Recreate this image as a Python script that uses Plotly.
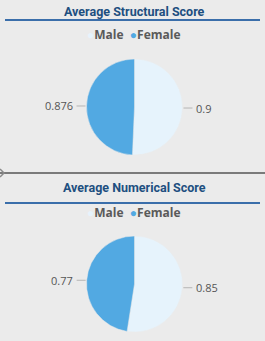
import math
import plotly.graph_objects as go

labels = ["Male", "Female"]
structural = [0.9, 0.876]
numerical = [0.85, 0.77]
titles = ["Average Structural Score", "Average Numerical Score"]
colors = ["#e6f3fc", "#52a9e2"]

W, H = 265, 341
def px_x(p):
    return p / W
def px_y(p):
    return 1 - p / H

# panel layout in pixels: (pie centre x, centre y, radius, title y, rule y, legend y)
panels = [
    dict(cx=134.5, cy=107, r=48, ty=12, ly=20, gy=34),
    dict(cx=134.5, cy=284, r=48, ty=188, ly=203, gy=212),
]
datasets = [structural, numerical]

fig = go.Figure()
for vals, p, t in zip(datasets, panels, titles):
    fig.add_trace(go.Pie(
        labels=labels, values=vals, sort=False, direction="clockwise", rotation=0,
        marker=dict(colors=colors, line=dict(color="#ebebeb", width=0.5)),
        textinfo="none", showlegend=False, hoverinfo="label+value",
        domain=dict(x=[px_x(p["cx"] - p["r"]), px_x(p["cx"] + p["r"])],
                    y=[px_y(p["cy"] + p["r"]), px_y(p["cy"] - p["r"])])))
    # data labels with leader lines, placed at each slice's mid angle
    total = sum(vals)
    start = 0.0
    for v in vals:
        frac = v / total
        mid = (start + frac / 2) * 2 * math.pi
        start += frac
        sx, sy = math.sin(mid), -math.cos(mid)
        ex, ey = p["cx"] + p["r"] * sx, p["cy"] + p["r"] * sy
        side = 1 if sx >= 0 else -1
        lx = ex + side * 10
        fig.add_shape(type="line", xref="paper", yref="paper",
                      x0=px_x(ex + side * 1), y0=px_y(ey), x1=px_x(lx), y1=px_y(ey),
                      line=dict(color="#b5b5b5", width=1))
        fig.add_annotation(text=str(v), x=px_x(lx + side * 2), y=px_y(ey),
                           xref="paper", yref="paper", showarrow=False,
                           xanchor="left" if side > 0 else "right", yanchor="middle",
                           font=dict(family="Open Sans", size=11, color="#555555"))
    # title
    fig.add_annotation(text="<b>" + t + "</b>", x=px_x(134), y=px_y(p["ty"]),
                       xref="paper", yref="paper", showarrow=False,
                       xanchor="center", yanchor="middle",
                       font=dict(family="Roboto", size=12.5, color="#1d4f80"))
    fig.add_shape(type="line", xref="paper", yref="paper", x0=px_x(5), x1=px_x(260),
                  y0=px_y(p["ly"]), y1=px_y(p["ly"]), line=dict(color="#3a6eaa", width=2))
    # legend
    legend_text = "  ".join(
        "<span style='color:%s'>●</span><b>%s</b>" % (c, l) for c, l in zip(colors, labels))
    fig.add_annotation(text=legend_text, x=px_x(134), y=px_y(p["gy"]),
                       xref="paper", yref="paper", showarrow=False,
                       xanchor="center", yanchor="middle",
                       font=dict(family="Open Sans", size=12, color="#5a5a5a"))

# separator between the two panels, with the small chevron at its left end
fig.add_shape(type="line", xref="paper", yref="paper", x0=0, x1=1,
              y0=px_y(173), y1=px_y(173), line=dict(color="#7a7a7a", width=2))
fig.add_shape(type="path", xref="paper", yref="paper",
              path="M %f,%f L %f,%f L %f,%f" % (px_x(0), px_y(169), px_x(4), px_y(173),
                                                 px_x(0), px_y(177)),
              line=dict(color="#8a8a8a", width=1.5))

fig.update_layout(
    width=W, height=H, margin=dict(l=0, r=0, t=0, b=0),
    paper_bgcolor="#ebebeb", plot_bgcolor="#ebebeb",
)
fig.write_html("out.html")
